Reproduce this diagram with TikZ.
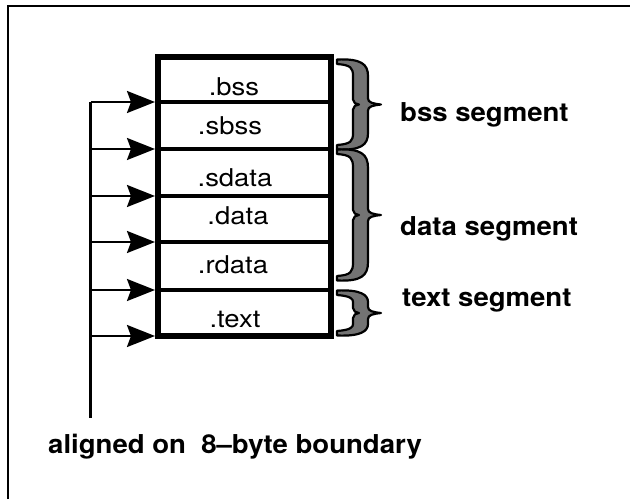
\documentclass[tikz,border=0pt]{standalone}
\usepackage{fontspec}
\usetikzlibrary{arrows.meta}
\newfontfamily\cellfont[FakeStretch=1.12]{TeX Gyre Heros}
\newfontfamily\labfont[FakeStretch=1.06]{TeX Gyre Heros}

% curly brace: #1 top, #2 bottom, #3 length of the curled ends
\newcommand\segbrace[3]{%
  \pgfmathsetmacro\bm{(#1+#2)/2}%
  \filldraw[bracefill]
    (337,#1-2.5) .. controls (361,#1-3.5) and (368,#1+2) .. (368,#1+#3)
    -- (368,\bm-6) .. controls (368,\bm-2) and (373,\bm-0.8) .. (381,\bm)
    .. controls (373,\bm+0.8) and (368,\bm+2) .. (368,\bm+6)
    -- (368,#2-#3) .. controls (368,#2-2) and (361,#2+3.5) .. (337,#2+2.5)
    -- (337,#2-2) .. controls (351,#2-3) and (353,#2-6) .. (353,#2-#3)
    -- (353,\bm+5) .. controls (353,\bm+2) and (356,\bm) .. (359,\bm)
    .. controls (356,\bm) and (353,\bm-2) .. (353,\bm-5)
    -- (353,#1+#3) .. controls (353,#1+6) and (351,#1+3) .. (337,#1+2) -- cycle;}

\begin{document}
\begin{tikzpicture}[x=1pt,y=-1pt,
  cell/.style={font=\cellfont\fontsize{24.5}{29}\selectfont, inner sep=0pt, anchor=base},
  seglabel/.style={font=\labfont\bfseries\fontsize{26}{31}\selectfont, inner sep=0pt, anchor=base west},
  bracefill/.style={fill=black!55, draw=black, line width=2.2pt, line join=round},
  feed/.style={line width=2.4pt, -{Stealth[length=28pt, width=22pt, inset=4pt]}},
  divider/.style={line width=4.5pt},
]
\useasboundingbox (0,0) rectangle (630,499);

% page frame (top and left edges)
\draw[line width=2.5pt] (8,499) -- (8,6) -- (630,6);

% section stack
\draw[line width=5.5pt] (158,57) rectangle (331,336);
\foreach \y in {102,149,196,242,290}
  \draw[divider] (158,\y) -- (331,\y);

\node[cell] (c1) at (234,95)  {.bss};
\node[cell] (c2) at (230,134) {.sbss};
\node[cell] (c3) at (235,186) {.sdata};
\node[cell] (c4) at (238,224) {.data};
\node[cell] (c5) at (233,273) {.rdata};
\node[cell] (c6) at (235,327) {.text};

% alignment arrows
\coordinate (foot) at (90.5,418);
\foreach \i/\y in {1/102,2/149,3/196,4/242,5/290,6/336} {
  \coordinate (a\i) at (90.5,\y);
  \coordinate (e\i) at (155,\y);
}
\draw[line width=2.4pt] (a1) -- (foot);
\foreach \i in {1,...,6}
  \draw[feed] (a\i) -- (e\i);

% segment braces
\segbrace{62}{147}{14}
\segbrace{152}{278}{16}
\segbrace{293}{333}{9}

\node[seglabel] (s1) at (400,121.5) {bss segment};
\node[seglabel] (s2) at (400,235)   {data segment};
\node[seglabel] (s3) at (402,306.5) {text segment};

\node[seglabel] (note) at (48,453) {aligned on\ \ 8–byte boundary};
\end{tikzpicture}
\end{document}
